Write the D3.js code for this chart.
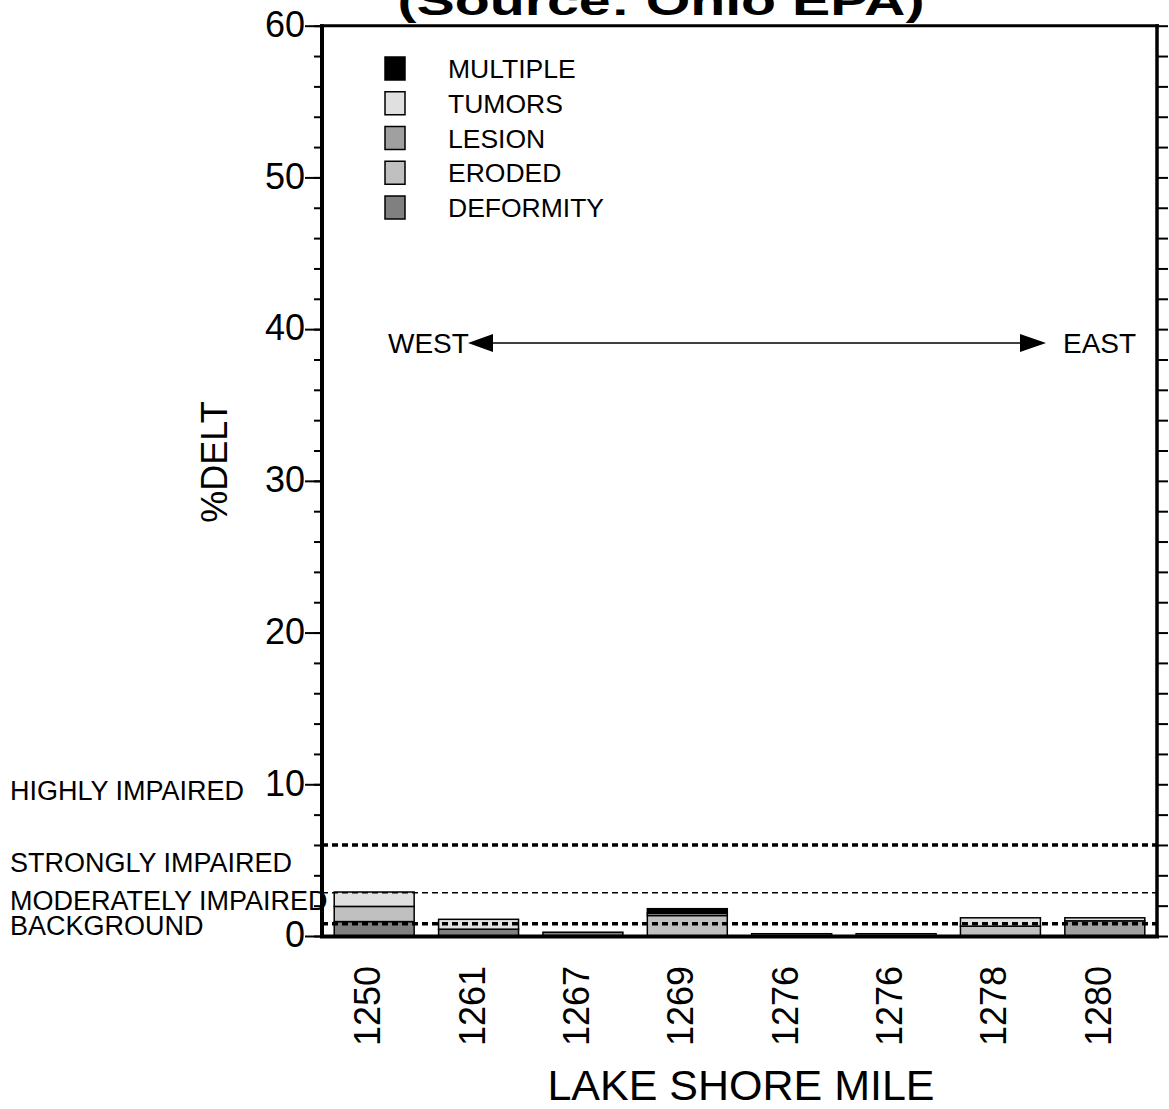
<!DOCTYPE html>
<html>
<head>
<meta charset="utf-8">
<script src="https://cdn.jsdelivr.net/npm/d3@7"></script>
<style>
  html, body { margin: 0; padding: 0; background: #fff; }
  svg { display: block; font-family: "Liberation Sans", Arial, sans-serif; }
</style>
</head>
<body>
<svg id="chart" width="1169" height="1109"></svg>
<script>
// ---- data ----
const categories = ["1250", "1261", "1267", "1269", "1276", "1276", "1278", "1280"];
const deformity  = [0.95, 0.45, 0.25, 0,    0.15, 0.15, 0,    0];
const eroded     = [1.0,  0,    0,    1.35, 0,    0,    0.65, 0];
const lesion     = [0,    0,    0,    0.15, 0,    0,    0,    1.0];
const tumors     = [0.95, 0.65, 0,    0,    0,    0,    0.55, 0.2];
const multiple   = [0,    0,    0,    0.3,  0,    0,    0,    0];
const seriesNames = ["DEFORMITY", "ERODED", "LESION", "TUMORS", "MULTIPLE"];
const legendOrder = ["MULTIPLE", "TUMORS", "LESION", "ERODED", "DEFORMITY"];
const yTicks = [0, 10, 20, 30, 40, 50, 60];
const thresholds = [6, 2.85, 0.8];
const thresholdLabels = ["HIGHLY IMPAIRED", "STRONGLY IMPAIRED", "MODERATELY IMPAIRED", "BACKGROUND"];

const seriesValues = { DEFORMITY: deformity, ERODED: eroded, LESION: lesion, TUMORS: tumors, MULTIPLE: multiple };
const colors = { MULTIPLE: "#000000", TUMORS: "#e0e0e0", LESION: "#a0a0a0", ERODED: "#c0c0c0", DEFORMITY: "#808080" };

const svg = d3.select("#chart");
const L = 322, R = 1157, T = 25.7, B = 936;

const x = d3.scaleBand().domain(d3.range(categories.length)).range([L, R]).paddingInner(0.234).paddingOuter(0.117);
const y = d3.scaleLinear().domain([0, 60]).range([B, T]);

// table for stack
const rows = categories.map((c, i) => {
  const o = { idx: i };
  seriesNames.forEach(s => o[s] = seriesValues[s][i]);
  return o;
});
const stacked = d3.stack().keys(seriesNames)(rows);

// bars
const gBars = svg.append("g");
stacked.forEach(layer => {
  gBars.selectAll(null).data(layer.filter(d => d[1] - d[0] > 0)).enter().append("rect")
    .attr("x", d => x(d.data.idx))
    .attr("width", x.bandwidth())
    .attr("y", d => y(d[1]))
    .attr("height", d => y(d[0]) - y(d[1]))
    .attr("fill", colors[layer.key])
    .attr("stroke", "#000")
    .attr("stroke-width", 1.5);
});

// threshold lines
const lineStyles = [
  { w: 3.5, dash: "6,4" },
  { w: 1.5, dash: "6,4" },
  { w: 3.5, dash: "6,4" }
];
thresholds.forEach((v, i) => {
  svg.append("line")
    .attr("x1", L).attr("x2", R)
    .attr("y1", y(v)).attr("y2", y(v))
    .attr("stroke", "#000")
    .attr("stroke-width", lineStyles[i].w)
    .attr("stroke-dasharray", lineStyles[i].dash);
});

// left axis
const yMinor = d3.range(0, 61, 2);
const leftAxis = svg.append("g").attr("transform", `translate(${L},0)`)
  .call(d3.axisLeft(y).tickValues(yMinor).tickSize(8).tickFormat(""));
leftAxis.select(".domain").remove();
leftAxis.selectAll("line").attr("stroke-width", 2);
const leftMajor = svg.append("g").attr("transform", `translate(${L},0)`)
  .call(d3.axisLeft(y).tickValues(yTicks).tickSize(17).tickPadding(0).tickFormat(d3.format("d")));
leftMajor.select(".domain").remove();
leftMajor.selectAll("line").attr("stroke-width", 2);
leftMajor.selectAll("text")
  .attr("font-size", 36)
  .attr("font-family", "Liberation Sans, Arial, sans-serif")
  .attr("fill", "#000")
  .attr("dy", "0.3em");

// right axis
const rightAxis = svg.append("g").attr("transform", `translate(${R},0)`)
  .call(d3.axisRight(y).tickValues(yMinor).tickSize(11).tickFormat(""));
rightAxis.select(".domain").remove();
rightAxis.selectAll("line").attr("stroke-width", 2);

// frame
svg.append("line").attr("x1", L).attr("x2", L).attr("y1", T - 1.5).attr("y2", B + 2).attr("stroke", "#000").attr("stroke-width", 4);
svg.append("line").attr("x1", R).attr("x2", R).attr("y1", T - 1.5).attr("y2", B + 2).attr("stroke", "#000").attr("stroke-width", 3.5);
svg.append("line").attr("x1", L - 2).attr("x2", R + 2).attr("y1", T).attr("y2", T).attr("stroke", "#000").attr("stroke-width", 3);
svg.append("line").attr("x1", L - 2).attr("x2", R + 2).attr("y1", B + 0.5).attr("y2", B + 0.5).attr("stroke", "#000").attr("stroke-width", 4);

// x labels (rotated)
svg.append("g").selectAll("text").data(categories).enter().append("text")
  .attr("transform", (d, i) => `translate(${x(i) + x.bandwidth() / 2 + 6},966) rotate(-90)`)
  .attr("text-anchor", "end")
  .attr("font-size", 36)
  .attr("fill", "#000")
  .text(d => d);

// axis titles
svg.append("text")
  .attr("transform", "translate(227,462) rotate(-90)")
  .attr("text-anchor", "middle")
  .attr("font-size", 36)
  .text("%DELT");
svg.append("text")
  .attr("x", 741).attr("y", 1100)
  .attr("text-anchor", "middle")
  .attr("font-size", 43)
  .text("LAKE SHORE MILE");

// title (clipped at top)
svg.append("text")
  .attr("x", 661).attr("y", 15)
  .attr("text-anchor", "middle")
  .attr("font-size", 40)
  .attr("font-weight", "bold")
  .attr("textLength", 527)
  .attr("lengthAdjust", "spacingAndGlyphs")
  .text("(Source: Ohio EPA)");

// legend
const leg = svg.append("g");
legendOrder.forEach((s, i) => {
  const by = 78 + i * 34.75;
  leg.append("rect").attr("x", 385).attr("y", by - 21).attr("width", 20).attr("height", 23)
    .attr("fill", colors[s]).attr("stroke", "#000").attr("stroke-width", 1.5);
  leg.append("text").attr("x", 448).attr("y", by).attr("font-size", 26.5).text(s);
});

// direction arrow
const ay = 343;
svg.append("line").attr("x1", 488).attr("x2", 1024).attr("y1", ay).attr("y2", ay).attr("stroke", "#000").attr("stroke-width", 1.5);
svg.append("path").attr("d", `M468,${ay} L493,${ay - 9} L493,${ay + 9} Z`).attr("fill", "#000");
svg.append("path").attr("d", `M1046,${ay} L1020,${ay - 9} L1020,${ay + 9} Z`).attr("fill", "#000");
svg.append("text").attr("x", 388).attr("y", 353).attr("font-size", 28).text("WEST");
svg.append("text").attr("x", 1063).attr("y", 353).attr("font-size", 28).text("EAST");

// threshold labels
const labY = [800, 872, 910, 935];
thresholdLabels.forEach((t, i) => {
  svg.append("text").attr("x", 10).attr("y", labY[i]).attr("font-size", 27).text(t);
});
</script>
</body>
</html>
